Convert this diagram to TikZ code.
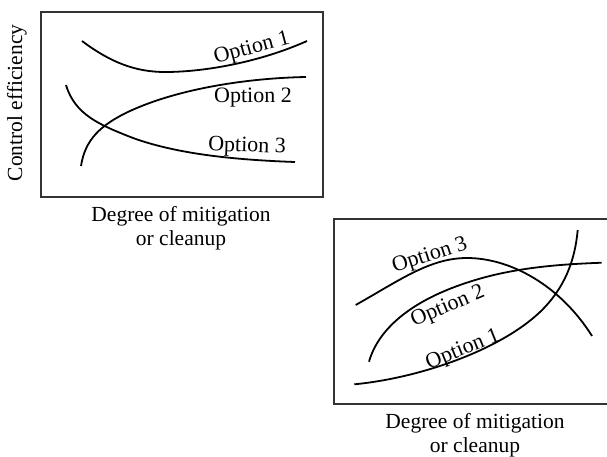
\documentclass[tikz,border=0pt]{standalone}
\usepackage{fontspec}
\setmainfont{Liberation Serif}
\begin{document}
\begin{tikzpicture}[x=1pt,y=-1pt,
  frame/.style={draw=black!80,line width=1.4pt},
  curve/.style={draw=black,line width=1.8pt},
  lbl/.style={font=\fontsize{22}{24}\selectfont,inner sep=0pt},
  axis/.style={font=\fontsize{21.5}{24}\selectfont,align=center,inner sep=0pt}]
\useasboundingbox (0,0) rectangle (607,456);

% upper chart
\draw[frame] (41,12) rectangle (323,197);
\node[axis,rotate=90] (yl) at (17,103) {Control efficiency};
\node[axis] (xl1) at (181,228) {Degree of mitigation\\or cleanup};
\draw[curve] (82,41) .. controls (110,62) and (135,72) .. (165,72)
                     .. controls (205,72) and (260,62) .. (307,41);
\draw[curve] (81,166) .. controls (85,140) and (100,125) .. (130,111)
                      .. controls (180,88) and (250,78) .. (306,77);
\draw[curve] (66,85) .. controls (75,115) and (100,125) .. (133,138)
                     .. controls (180,155) and (240,160) .. (295,162);
\node[lbl,rotate=15] (a1) at (252,49) {Option 1};
\node[lbl] (a2) at (253,98) {Option 2};
\node[lbl,rotate=-2] (a3) at (247,147) {Option 3};

% lower chart
\draw[frame] (334,219) rectangle (615,404);
\node[axis] (xl2) at (475,435) {Degree of mitigation\\or cleanup};
\draw[curve] (355.7,305) .. controls (400,280) and (430,258) .. (467,258)
                         .. controls (510,258) and (560,285) .. (592,336);
\draw[curve] (369,361.7) .. controls (378,330) and (410,300) .. (473,280.7)
                         .. controls (520,266) and (570,264) .. (601.7,262.7);
\draw[curve] (354.3,384.3) .. controls (420,378) and (500,350) .. (540,312)
                           .. controls (565,288) and (575,260) .. (577.7,230);
\node[lbl,rotate=18] (b3) at (430,256) {Option 3};
\node[lbl,rotate=23] (b2) at (448,307) {Option 2};
\node[lbl,rotate=22] (b1) at (463,350) {Option 1};
\end{tikzpicture}
\end{document}
